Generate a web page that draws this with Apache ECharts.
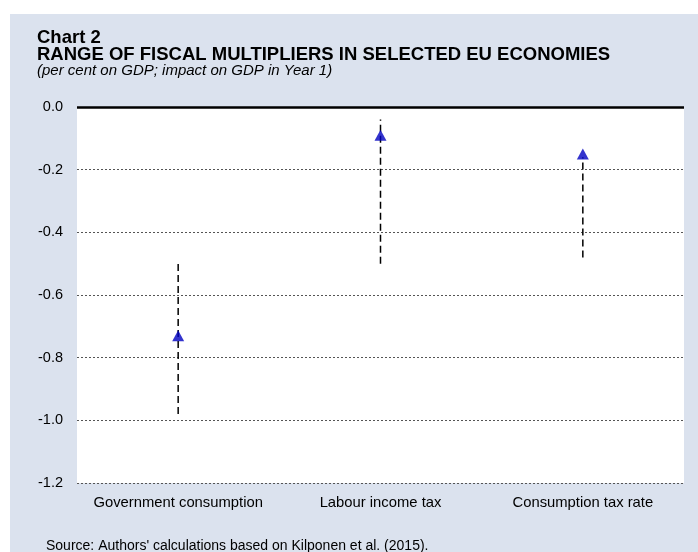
<!DOCTYPE html>
<html>
<head>
<meta charset="utf-8">
<script src="https://cdn.jsdelivr.net/npm/echarts@6/dist/echarts.min.js"></script>
<style>
  html, body { margin: 0; padding: 0; background: #fff; }
  #chart { width: 698px; height: 552px; }
</style>
</head>
<body>
<div id="chart"></div>
<script>
const categories = ["Government consumption", "Labour income tax", "Consumption tax rate"];
const rangeLow = [-0.98, -0.5, -0.48];
const rangeHigh = [-0.5, -0.04, -0.16];
const pointValues = [-0.73, -0.09, -0.15];
const yTicks = { min: -1.2, max: 0, interval: 0.2 };

const font = "'Liberation Sans', Arial, sans-serif";

const chart = echarts.init(document.getElementById("chart"));

chart.setOption({
  animation: false,
  backgroundColor: "#fff",
  graphic: [
    {
      type: "rect",
      z: -10,
      shape: { x: 10, y: 14, width: 688, height: 538 },
      style: { fill: "#dbe2ee" }
    }
  ],
  title: [
    {
      text: "Chart 2",
      left: 37,
      top: 28,
      padding: 0,
      textStyle: { fontFamily: font, fontSize: 18.5, fontWeight: "bold", color: "#000" }
    },
    {
      text: "RANGE OF FISCAL MULTIPLIERS IN SELECTED EU ECONOMIES",
      left: 37,
      top: 45,
      padding: 0,
      textStyle: { fontFamily: font, fontSize: 18.5, fontWeight: "bold", color: "#000" }
    },
    {
      text: "(per cent on GDP; impact on GDP in Year 1)",
      left: 37,
      top: 63,
      padding: 0,
      textStyle: { fontFamily: font, fontSize: 15, fontStyle: "italic", fontWeight: "normal", color: "#000" }
    },
    {
      text: "Source: Authors' calculations based on Kilponen et al. (2015).",
      left: 46,
      top: 539,
      padding: 0,
      textStyle: { fontFamily: font, fontSize: 14, fontWeight: "normal", color: "#000" }
    }
  ],
  grid: {
    left: 77,
    right: 14,
    top: 107,
    bottom: 69,
    show: true,
    backgroundColor: "#fff",
    borderWidth: 0
  },
  xAxis: {
    type: "category",
    data: categories,
    axisLine: { show: false },
    axisTick: { show: false },
    axisLabel: { interval: 0, fontFamily: font, fontSize: 14.8, color: "#000", margin: 12 }
  },
  yAxis: {
    type: "value",
    min: yTicks.min,
    max: yTicks.max,
    interval: yTicks.interval,
    axisLine: { show: false },
    axisTick: { show: false },
    axisLabel: {
      fontFamily: font,
      fontSize: 14.5,
      color: "#000",
      margin: 14,
      formatter: (v) => v.toFixed(1)
    },
    splitLine: { lineStyle: { color: "#555", width: 1, type: [2, 2] } }
  },
  series: [
    {
      type: "custom",
      data: categories.map((c, i) => [i, rangeLow[i], rangeHigh[i]]),
      renderItem: (params, api) => {
        const p1 = api.coord([api.value(0), api.value(1)]);
        const p2 = api.coord([api.value(0), api.value(2)]);
        return {
          type: "line",
          shape: { x1: p1[0], y1: p1[1], x2: p2[0], y2: p2[1] },
          style: { stroke: "#000", lineWidth: 1.5, lineDash: [7, 4] }
        };
      },
      markLine: {
        silent: true,
        symbol: "none",
        label: { show: false },
        lineStyle: { color: "#000", width: 2.5, type: "solid" },
        data: [{ yAxis: 0 }]
      },
      z: 2
    },
    {
      type: "scatter",
      data: pointValues,
      symbol: "triangle",
      symbolSize: [12, 11],
      itemStyle: { color: "#0000c0" },
      z: 3
    }
  ]
});
</script>
</body>
</html>
